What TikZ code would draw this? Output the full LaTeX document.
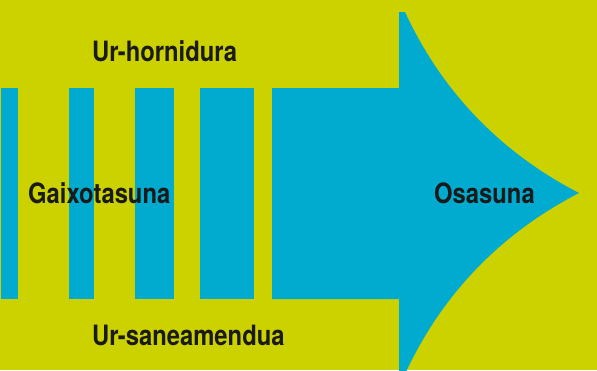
\documentclass[tikz,border=0pt]{standalone}
\usepackage{fontspec}
\setmainfont{TeX Gyre Heros}[FakeStretch=0.85]
\definecolor{bgc}{HTML}{CCD100}
\definecolor{bluec}{HTML}{00ABCF}
\definecolor{txtc}{HTML}{1A1A1A}
\begin{document}
\begin{tikzpicture}[x=1pt,y=-1pt,
  bar/.style={fill=bluec,draw=none},
  lbl/.style={font=\fontsize{28}{30}\selectfont\bfseries,text=txtc,inner sep=0pt,anchor=base west}]
\fill[bgc] (0,0) rectangle (597,370);
\useasboundingbox (0,0) rectangle (597,370);
\begin{scope}
\clip (0,0) rectangle (597,370);
\fill[bar] (1,88) rectangle (18,299);
\fill[bar] (69,88) rectangle (94,299);
\fill[bar] (135,88) rectangle (174,299);
\fill[bar] (200,88) rectangle (254,299);
\fill[bar] (272,88) -- (399,88) -- (399,12) -- (405,12)
  .. controls (448,105) and (515,160) .. (579,193)
  .. controls (515,226) and (448,281) .. (405,374)
  -- (399,374) -- (399,299) -- (272,299) -- cycle;
\end{scope}
\node[lbl] (top) at (92,61.5) {Ur-hornidura};
\node[lbl] (bot) at (92,345) {Ur-saneamendua};
\node[lbl] (ill) at (28,203) {Gaixotasuna};
\node[lbl] (ok) at (434,203) {Osasuna};
\end{tikzpicture}
\end{document}
